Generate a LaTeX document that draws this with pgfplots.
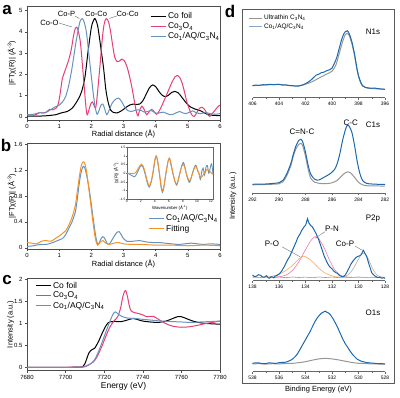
\documentclass[border=0pt]{standalone}
\usepackage{fontspec}
\setmainfont{Liberation Sans}
\usepackage{pgfplots}
\pgfplotsset{compat=1.18}
\definecolor{cpink}{RGB}{232,62,118}
\definecolor{cblue}{RGB}{104,146,190}
\definecolor{corange}{RGB}{243,146,40}
\definecolor{dblue}{RGB}{26,104,176}
\definecolor{dgray}{RGB}{150,150,150}
\definecolor{dtan}{RGB}{190,172,152}
\definecolor{dpink}{RGB}{240,120,165}
\definecolor{dorange}{RGB}{246,170,90}
\newcommand{\fs}[1]{\fontsize{#1}{#1}\selectfont}
\pgfplotsset{
  leftpanel/.style={scale only axis, width=193bp, xmin=0, xmax=6,
    tick align=outside, xtick pos=bottom, ytick pos=left,
    axis line style={draw=black!70, line width=0.5pt},
    tick style={black!70, line width=0.4pt}, major tick length=2bp,
    tick label style={font=\fs{6}},
    label style={font=\fs{7.5}},
    /pgf/number format/assume math mode=true,
    /pgf/number format/1000 sep={},
    xticklabel style={yshift=1bp}, yticklabel style={xshift=1bp},
    legend image code/.code={\draw[##1] (0bp,0bp) -- (15bp,0bp);},
    legend cell align=left,
    legend style={draw=none, fill=none, font=\fs{8.5}, row sep=-1.5bp, inner sep=0pt, anchor=north west},
    every axis plot/.append style={line width=1pt}},
  dsub/.style={scale only axis, width=132.5bp, height=80bp, x dir=reverse, ymin=0, ymax=80,
    axis x line*=bottom, axis y line=none, tick align=outside, minor x tick num=1,
    x axis line style={draw=black!60, line width=0.5pt}, tick style={black!60, line width=0.4pt},
    major tick length=2bp, minor tick length=1.2bp,
    tick label style={font=\fs{5}}, xticklabel style={yshift=1bp},
    /pgf/number format/assume math mode=true,
    /pgf/number format/1000 sep={},
    clip=false, every axis plot/.append style={line width=1pt}}
}
\begin{document}
\begin{tikzpicture}
\useasboundingbox (0bp,0bp) rectangle (400bp,398bp);
% ---------------- panel a
\begin{axis}[leftpanel, at={(27bp,278bp)}, anchor=south west, height=114bp,
  ymin=-0.15, ymax=5.22, ytick={0,1,2,3,4,5}, xtick={0,1,2,3,4,5,6},
  xlabel={Radial distance (Å)}, ylabel={|FTχ(R)| (Å\textsuperscript{-3})},
  xlabel style={at={(axis description cs:0.5,-0.123)},anchor=center},
  ylabel style={at={(axis description cs:-0.078,0.5)},anchor=center},
  legend style={at={(0.637,0.96)}}]
\addplot[black, smooth] coordinates {(0,0.03)(0.3,0.03)(0.6,0.05)(0.9,0.1)(1.0,0.15)(1.1,0.2)(1.25,0.25)(1.4,0.4)(1.5,0.6)(1.6,0.85)(1.7,1.2)(1.8,1.85)(1.9,3.1)(2.0,4.2)(2.07,4.55)(2.12,4.62)(2.2,4.25)(2.3,3.2)(2.38,2.3)(2.45,1.3)(2.52,0.7)(2.6,0.32)(2.7,0.2)(2.8,0.18)(2.9,0.25)(3.0,0.35)(3.1,0.47)(3.2,0.56)(3.3,0.6)(3.4,0.58)(3.5,0.6)(3.6,0.75)(3.7,1.05)(3.8,1.35)(3.9,1.5)(4.0,1.42)(4.1,1.2)(4.2,1.02)(4.3,0.95)(4.4,1.02)(4.5,1.15)(4.6,1.2)(4.7,1.13)(4.8,0.95)(4.9,0.75)(5.0,0.57)(5.1,0.45)(5.2,0.38)(5.3,0.33)(5.4,0.28)(5.5,0.2)(5.6,0.12)(5.7,0.08)(5.8,0.07)(6.0,0.05)};
\addlegendentry{Co foil}
\addplot[cpink, smooth] coordinates {(0,0.08)(0.1,0.1)(0.2,0.07)(0.3,0.12)(0.4,0.2)(0.5,0.18)(0.6,0.22)(0.7,0.35)(0.8,0.33)(0.9,0.4)(0.95,0.5)(1.0,0.8)(1.05,1.3)(1.1,1.8)(1.2,2.25)(1.3,2.7)(1.38,3.2)(1.45,3.85)(1.5,4.15)(1.55,4.22)(1.6,4.0)(1.66,3.5)(1.72,2.5)(1.78,1.4)(1.83,0.5)(1.87,0.1)(1.92,0.3)(1.98,0.6)(2.03,0.7)(2.08,0.55)(2.13,0.4)(2.17,0.8)(2.22,1.6)(2.28,2.6)(2.33,3.5)(2.38,4.2)(2.43,4.55)(2.48,4.62)(2.54,4.45)(2.6,4.0)(2.67,3.3)(2.73,2.8)(2.8,2.6)(2.87,2.62)(2.95,2.72)(3.02,2.65)(3.1,2.4)(3.18,1.95)(3.26,1.4)(3.33,0.8)(3.4,0.25)(3.45,0.05)(3.5,0.3)(3.57,0.5)(3.64,0.35)(3.72,0.1)(3.8,0.25)(3.88,0.35)(3.95,0.25)(4.02,0.12)(4.1,0.25)(4.2,0.55)(4.3,0.9)(4.4,1.25)(4.5,1.6)(4.6,1.88)(4.67,1.95)(4.75,1.85)(4.82,1.6)(4.9,1.15)(4.97,0.7)(5.05,0.35)(5.12,0.1)(5.2,0.02)(5.28,0.2)(5.36,0.4)(5.44,0.45)(5.52,0.35)(5.6,0.15)(5.68,0.02)(5.76,0.15)(5.85,0.32)(5.95,0.5)(6.0,0.55)};
\addlegendentry{Co\textsubscript{3}O\textsubscript{4}}
\addplot[cblue, smooth] coordinates {(0,0.1)(0.2,0.12)(0.4,0.2)(0.55,0.18)(0.7,0.3)(0.85,0.45)(1.0,0.55)(1.1,0.7)(1.2,0.95)(1.3,1.5)(1.4,2.3)(1.5,3.3)(1.58,4.0)(1.65,4.5)(1.72,4.62)(1.78,4.45)(1.85,3.95)(1.92,3.0)(2.0,1.9)(2.06,1.1)(2.12,0.45)(2.18,0.12)(2.24,0.3)(2.3,0.55)(2.36,0.6)(2.42,0.35)(2.48,0.1)(2.55,0.3)(2.65,0.65)(2.75,0.82)(2.85,0.88)(2.95,0.7)(3.05,0.42)(3.15,0.28)(3.25,0.25)(3.35,0.3)(3.45,0.33)(3.55,0.3)(3.65,0.22)(3.75,0.25)(3.85,0.3)(3.95,0.22)(4.05,0.15)(4.15,0.2)(4.25,0.22)(4.35,0.15)(4.45,0.1)(4.55,0.12)(4.65,0.2)(4.75,0.25)(4.85,0.18)(4.95,0.15)(5.05,0.22)(5.15,0.28)(5.25,0.2)(5.4,0.15)(5.55,0.2)(5.7,0.15)(5.85,0.12)(6.0,0.15)};
\addlegendentry{Co\textsubscript{1}/AQ/C\textsubscript{3}N\textsubscript{4}}
\node[font=\fs{7.6}] at (axis cs:0.70,4.43) {Co-O};
\draw[black!60, line width=0.4pt] (axis cs:0.99,4.42) -- (axis cs:1.40,4.23);
\node[font=\fs{7.6}] at (axis cs:1.23,4.83) {Co-P};
\draw[black!60, line width=0.4pt] (axis cs:1.49,4.75) -- (axis cs:1.63,4.63);
\node[font=\fs{7.6}] at (axis cs:2.15,4.83) {Co-Co};
\node[font=\fs{7.6}] at (axis cs:3.13,4.83) {Co-Co};
\draw[black!60, line width=0.4pt] (axis cs:2.79,4.75) -- (axis cs:2.56,4.63);
\end{axis}
% ---------------- panel b
\begin{axis}[leftpanel, at={(27bp,149bp)}, anchor=south west, height=105.5bp,
  ymin=-0.02, ymax=1.612, ytick={0,0.4,0.8,1.2,1.6}, xtick={0,1,2,3,4,5,6},
  xlabel={Radial distance (Å)}, ylabel={|FTχ(R)| (Å\textsuperscript{-3})},
  xlabel style={at={(axis description cs:0.5,-0.142)},anchor=center},
  ylabel style={at={(axis description cs:-0.078,0.5)},anchor=center},
  legend style={at={(0.627,0.345)}}]
\addplot[cblue, smooth] coordinates {(0,0.02)(0.2,0.03)(0.4,0.05)(0.6,0.05)(0.8,0.08)(1.0,0.12)(1.1,0.14)(1.2,0.2)(1.3,0.3)(1.4,0.4)(1.5,0.55)(1.55,0.7)(1.6,0.9)(1.65,1.08)(1.7,1.2)(1.75,1.26)(1.8,1.23)(1.85,1.13)(1.9,1.0)(1.95,0.85)(2.0,0.67)(2.05,0.48)(2.1,0.3)(2.15,0.14)(2.2,0.05)(2.25,0.08)(2.3,0.14)(2.36,0.17)(2.42,0.14)(2.5,0.06)(2.55,0.05)(2.62,0.1)(2.7,0.17)(2.8,0.24)(2.86,0.25)(2.93,0.2)(3.0,0.14)(3.1,0.1)(3.3,0.1)(3.5,0.11)(3.7,0.09)(3.9,0.08)(4.1,0.08)(4.3,0.07)(4.5,0.06)(4.7,0.05)(4.9,0.06)(5.1,0.07)(5.3,0.06)(5.5,0.05)(5.7,0.06)(6.0,0.05)};
\addlegendentry{Co\textsubscript{1}/AQ/C\textsubscript{3}N\textsubscript{4}}
\addplot[corange, smooth] coordinates {(0,0.08)(0.15,0.07)(0.3,0.06)(0.45,0.1)(0.6,0.11)(0.75,0.1)(0.9,0.15)(1.0,0.18)(1.1,0.22)(1.2,0.26)(1.3,0.35)(1.4,0.47)(1.5,0.65)(1.55,0.82)(1.6,1.0)(1.65,1.17)(1.7,1.29)(1.75,1.33)(1.8,1.3)(1.85,1.18)(1.9,1.0)(1.95,0.8)(2.0,0.6)(2.05,0.4)(2.1,0.22)(2.15,0.09)(2.2,0.04)(2.25,0.07)(2.3,0.1)(2.36,0.11)(2.45,0.07)(2.55,0.05)(2.7,0.07)(2.85,0.08)(3.0,0.06)(3.3,0.05)(3.6,0.05)(4.0,0.04)(4.5,0.04)(5.0,0.03)(5.5,0.04)(6.0,0.03)};
\addlegendentry{Fitting}
\end{axis}
% inset
\begin{axis}[scale only axis, at={(126.7bp,198.7bp)}, anchor=south west, width=86.3bp, height=52bp,
  xmin=0, xmax=12.3, ymin=-1.5, ymax=1.5, xtick={0,2,4,6,8,10,12}, ytick={-1.5,-1,-0.5,0,0.5,1,1.5},
  tick align=outside, xtick pos=bottom, ytick pos=left, major tick length=1bp,
  axis line style={draw=black!60, line width=0.4pt}, tick style={black!60, line width=0.3pt},
  axis background/.style={fill=white},
  tick label style={font=\fs{3.3}, inner sep=0.6bp}, xticklabel style={yshift=0.5bp}, yticklabel style={xshift=0.5bp},
  /pgf/number format/assume math mode=true,
  xlabel={Wavenumber (Å\textsuperscript{-1})}, ylabel={|χ(R)| (Å\textsuperscript{-3})},
  label style={font=\fs{4.3}, inner sep=0.5bp},
  xlabel style={at={(axis description cs:0.5,-0.165)},anchor=center},
  ylabel style={at={(axis description cs:-0.125,0.5)},anchor=center},
  every axis plot/.append style={line width=0.9pt}]
\addplot[cblue, smooth] coordinates {(0,0.02)(0.4,-0.05)(0.8,-0.15)(1.1,-0.2)(1.4,-0.05)(1.7,0.2)(1.9,0.38)(2.1,0.45)(2.3,0.38)(2.6,0.0)(2.9,-0.5)(3.2,-0.8)(3.5,-0.5)(3.8,0.15)(4.0,0.7)(4.2,1.0)(4.4,0.7)(4.7,-0.15)(4.9,-0.8)(5.1,-1.1)(5.3,-0.8)(5.6,0.0)(5.9,0.7)(6.1,0.85)(6.3,0.5)(6.6,-0.05)(6.8,-0.35)(7.1,-0.68)(7.3,-0.5)(7.6,0.05)(7.9,0.5)(8.1,0.62)(8.3,0.35)(8.6,-0.2)(8.9,-0.52)(9.1,-0.4)(9.4,0.05)(9.7,0.4)(9.9,0.45)(10.1,0.15)(10.3,0.0)(10.5,-0.35)(10.7,0.1)(10.9,0.3)(11.1,-0.1)(11.3,0.35)(11.5,0.45)(11.7,0.0)(11.9,0.3)(12.1,0.55)(12.3,-0.05)};
\addplot[corange, smooth] coordinates {(0,0)(0.5,0.0)(1.0,-0.02)(1.3,0.05)(1.6,0.25)(1.9,0.45)(2.1,0.53)(2.3,0.45)(2.6,0.1)(2.9,-0.4)(3.2,-0.72)(3.5,-0.45)(3.8,0.2)(4.0,0.75)(4.2,1.0)(4.4,0.75)(4.7,-0.1)(4.9,-0.7)(5.1,-1.0)(5.3,-0.75)(5.6,0.05)(5.9,0.7)(6.1,0.88)(6.3,0.6)(6.6,0.0)(6.9,-0.5)(7.1,-0.62)(7.3,-0.45)(7.6,0.05)(7.9,0.45)(8.1,0.5)(8.3,0.3)(8.6,-0.15)(8.9,-0.42)(9.1,-0.35)(9.4,0.0)(9.7,0.35)(9.9,0.38)(10.1,0.2)(10.4,-0.15)(10.6,-0.25)(10.9,-0.1)(11.2,0.1)(11.5,0.22)(11.8,0.15)(12.1,0.0)(12.3,-0.05)};
\end{axis}
% ---------------- panel c
\begin{axis}[leftpanel, at={(27bp,27.5bp)}, anchor=south west, height=92.2bp,
  xmin=7680, xmax=7780, ymin=-0.073, ymax=2.023, ytick={0,0.5,1,1.5,2}, xtick={7680,7700,7720,7740,7760,7780},
  xlabel={Energy (eV)}, ylabel={Intensity (a.u.)},
  xlabel style={at={(axis description cs:0.5,-0.174)},anchor=center, font=\fs{8.5}},
  ylabel style={at={(axis description cs:-0.085,0.5)},anchor=center},
  legend style={at={(0.041,0.985)}}]
\addplot[black, smooth] coordinates {(7680,0)(7700,0)(7708,0.005)(7709,0.02)(7710,0.08)(7711,0.2)(7712,0.32)(7713,0.38)(7714,0.41)(7715,0.43)(7716,0.5)(7717,0.58)(7718,0.68)(7719,0.78)(7720,0.87)(7721,0.95)(7722,1.01)(7724,1.04)(7727,1.04)(7729,1.04)(7731,1.06)(7733,1.09)(7735,1.11)(7737,1.09)(7740,1.05)(7744,1.03)(7748,1.02)(7752,1.05)(7755,1.1)(7758,1.15)(7760,1.15)(7763,1.1)(7766,1.05)(7770,1.01)(7775,0.99)(7780,0.98)};
\addlegendentry{Co foil}
\addplot[cpink, smooth] coordinates {(7680,0)(7700,0)(7709,0.01)(7711,0.04)(7713,0.08)(7715,0.15)(7717,0.3)(7719,0.5)(7721,0.72)(7723,0.92)(7725,1.05)(7727,1.15)(7728.5,1.35)(7729.5,1.58)(7730.5,1.72)(7731.2,1.74)(7732,1.62)(7733,1.4)(7734,1.28)(7736,1.24)(7738,1.22)(7740,1.19)(7742,1.15)(7744,1.16)(7745.5,1.16)(7747,1.12)(7750,1.04)(7753,0.97)(7756,0.93)(7760,0.91)(7764,0.92)(7768,0.95)(7772,0.99)(7776,1.02)(7780,1.05)};
\addlegendentry{Co\textsubscript{3}O\textsubscript{4}}
\addplot[cblue, smooth] coordinates {(7680,0)(7700,0)(7709,0.005)(7711,0.03)(7713,0.08)(7715,0.17)(7717,0.35)(7719,0.58)(7721,0.82)(7723,1.05)(7724.5,1.2)(7725.7,1.26)(7727,1.22)(7729,1.16)(7732,1.12)(7736,1.11)(7740,1.09)(7745,1.07)(7750,1.05)(7755,1.04)(7760,1.03)(7765,1.02)(7770,1.03)(7775,1.04)(7780,1.05)};
\addlegendentry{Co\textsubscript{1}/AQ/C\textsubscript{3}N\textsubscript{4}}
\end{axis}
% ---------------- panel d outer box
\begin{axis}[scale only axis, at={(242.7bp,14.7bp)}, anchor=south west, width=151.6bp, height=374.3bp,
  xmin=0, xmax=1, ymin=0, ymax=1, xtick=\empty, ytick=\empty,
  axis line style={draw=black!65, line width=0.8pt},
  xlabel={Binding Energy (eV)}, ylabel={Intensity (a.u.)}, label style={font=\fs{7.5}},
  xlabel style={at={(axis description cs:0.5,-0.018)},anchor=center},
  ylabel style={at={(axis description cs:-0.064,0.5)},anchor=center},
  legend image code/.code={\draw[#1] (0bp,0bp) -- (13bp,0bp);},
  legend cell align=left,
  legend style={draw=none, fill=none, font=\fs{6.5}, row sep=-1.5bp, inner sep=0pt, anchor=north west, at={(0.035,0.99)}}]
\addlegendimage{dgray, line width=1pt}
\addlegendentry{Ultrathin C\textsubscript{3}N\textsubscript{4}}
\addlegendimage{cblue!80, line width=1pt}
\addlegendentry{Co\textsubscript{1}/AQ/C\textsubscript{3}N\textsubscript{4}}
\end{axis}
% N1s
\begin{axis}[dsub, at={(252.5bp,300.3bp)}, anchor=south west, xmin=396, xmax=406, xtick={396,398,400,402,404,406}]
\addplot[dgray, smooth] coordinates {(406,12)(405,12.8)(404,13.2)(403,12)(402.5,12)(402,13.5)(401.5,16)(401,19.5)(400.5,23)(400,26.5)(399.7,33)(399.5,42)(399.2,56)(399,63)(398.85,64.5)(398.7,62)(398.5,54)(398.3,42)(398.1,27)(397.9,17)(397.7,12)(397.4,9.8)(397,9.2)(396,8.4)};
\addplot[dblue] coordinates {(406,12)(405.8,12.6)(405.5,12.3)(405.2,13)(405,12.8)(404.7,13.4)(404.4,13)(404,13.4)(403.7,12.6)(403.5,12.8)(403.2,12.1)(403,12)(402.7,11.5)(402.5,11.7)(402.2,12.8)(402,14)(401.8,15.6)(401.6,17.5)(401.4,20)(401.2,22.5)(401,23.5)(400.8,25)(400.6,25.6)(400.4,27)(400.2,27.8)(400,29.5)(399.9,32)(399.8,35)(399.7,38)(399.6,42)(399.5,47)(399.4,52)(399.3,57)(399.2,61)(399.1,64)(399,66)(398.9,66.5)(398.85,67)(398.75,65.5)(398.7,64)(398.6,60.5)(398.5,56)(398.4,50)(398.3,44)(398.2,36)(398.1,28)(398,22)(397.9,18)(397.8,14.5)(397.7,12)(397.5,10.5)(397.3,9.8)(397,9.4)(396.8,9.7)(396.5,9)(396.3,8.7)(396,8.4)};
\end{axis}
% C1s
\begin{axis}[dsub, at={(252.5bp,204.7bp)}, anchor=south west, xmin=282, xmax=292, xtick={282,284,286,288,290,292}]
\addplot[dgray, smooth] coordinates {(292,8.5)(291,8.8)(290,9.5)(289.7,11.5)(289.4,18)(289.1,28)(288.9,38)(288.7,45)(288.5,49)(288.35,50)(288.2,47)(288.0,37)(287.8,24)(287.6,15)(287.3,11)(287.0,10)(286.5,9.6)(286,10.5)(285.6,13)(285.3,17)(285.0,20.5)(284.8,21.5)(284.6,20.5)(284.3,16)(284.0,11)(283.7,8.5)(283.3,7.5)(282.5,7.3)(282,7.3)};
\addplot[dblue, smooth] coordinates {(292,9)(291.5,9.2)(291,9.3)(290.5,9.8)(290,10.6)(289.7,13)(289.4,20)(289.1,30)(288.9,40)(288.7,48)(288.5,53)(288.35,54)(288.2,51)(288.0,41)(287.8,28)(287.6,19)(287.3,14)(287.0,13.3)(286.7,15.3)(286.4,17.5)(286.1,20)(285.8,24)(285.6,30)(285.4,40)(285.2,53)(285.0,63)(284.85,68)(284.7,67)(284.5,61)(284.3,48)(284.1,32)(283.9,20)(283.7,13)(283.4,10)(283,9.3)(282.5,9)(282,9)};
\end{axis}
% P2p
\begin{axis}[dsub, at={(252.5bp,117.3bp)}, anchor=south west, xmin=128, xmax=138, xtick={128,130,132,134,136,138}]
\addplot[dgray, line width=0.6pt] coordinates {(138,3.8)(137.5,3.0)(137,3.8)(136.5,3.0)(136,3.6)(135.5,3.1)(135,3.7)(134.5,3.2)(134,3.6)(133.5,3.0)(133,3.7)(132.5,3.2)(132,3.6)(131.5,3.1)(131,3.6)(130.5,3.2)(130,3.7)(129.5,3.1)(129,3.5)(128.5,3.1)(128,3.4)};
\addplot[dorange, smooth, line width=0.6pt] coordinates {(138,3.4)(137,3.6)(136.5,4.5)(136,6.5)(135.5,10)(135,15)(134.6,20.5)(134.2,24.5)(133.8,22.5)(133.4,18)(133,12.5)(132.5,7.5)(132,4.8)(131.5,3.7)(131,3.4)(128,3.4)};
\addplot[dpink, smooth, line width=0.6pt] coordinates {(136.5,3.5)(136.0,4.0)(135.5,5.5)(135.0,10)(134.5,19)(134.0,31)(133.6,40)(133.3,44)(133.0,42)(132.6,33)(132.2,21)(131.8,11)(131.4,5.8)(131.0,3.9)(130.5,3.4)};
\addplot[dtan, smooth, line width=0.6pt] coordinates {(131.5,3.4)(131,4.2)(130.7,7)(130.4,12)(130.1,19)(129.9,24)(129.7,27.5)(129.5,27)(129.3,23)(129.1,17)(128.9,11)(128.6,5.5)(128.3,3.8)(128,3.4)};
\addplot[dblue] coordinates {(138,5.7)(137.85,4.2)(137.7,4.5)(137.55,6)(137.4,5.5)(137.25,3.8)(137.1,3.5)(136.95,5)(136.9,4.2)(136.8,2.8)(136.7,2.5)(136.6,4)(136.5,3.8)(136.4,3)(136.3,4.5)(136.2,5)(136.1,5.7)(136,6.5)(135.9,8)(135.8,9.5)(135.7,12)(135.6,14)(135.5,17)(135.4,19.5)(135.3,22)(135.2,24)(135.1,27)(135,30)(134.9,33)(134.8,36)(134.7,39)(134.6,42.5)(134.5,45)(134.4,47)(134.3,50)(134.2,52)(134.1,54)(134.0,55.5)(133.95,57)(133.9,60)(133.85,62)(133.8,60)(133.75,58)(133.65,56)(133.6,55)(133.5,54)(133.4,52)(133.3,49.5)(133.2,47)(133.1,44)(133.0,41)(132.9,37)(132.8,33)(132.7,29)(132.6,25)(132.5,22)(132.4,19)(132.3,16.5)(132.2,14.5)(132.1,13)(132.0,12)(131.9,10)(131.8,9)(131.7,8)(131.6,7.4)(131.5,6)(131.4,5)(131.3,4.5)(131.2,4)(131.1,4.5)(131.0,5.7)(130.9,8)(130.8,10.5)(130.7,13)(130.6,16)(130.5,18)(130.4,20)(130.3,21.5)(130.2,23)(130.1,24)(130.0,24.5)(129.9,25)(129.8,26)(129.7,28.5)(129.65,30.5)(129.6,29.5)(129.5,27)(129.4,24.5)(129.35,23)(129.3,20.5)(129.2,16)(129.1,12)(129.0,8)(128.9,6.5)(128.8,5)(128.7,4.2)(128.6,3.5)(128.5,3.1)(128.4,3.6)(128.3,2.8)(128.2,2.6)(128.1,3)(128.0,2.4)};
\end{axis}
% O1s
\begin{axis}[dsub, at={(252.5bp,26.3bp)}, anchor=south west, xmin=528, xmax=538, xtick={528,530,532,534,536,538}]
\addplot[dgray] coordinates {(538,7.8)(537.5,8.1)(537,7.6)(536.5,8)(536,7.8)(535.5,8.2)(535,8.3)(534.5,9)(534,10)(533.5,11.5)(533,12.8)(532.5,13.4)(532,12.8)(531.5,11.8)(531,10.5)(530.5,9.2)(530,8.4)(529.5,8.1)(529,7.8)(528.5,7.7)(528,7.5)};
\addplot[dblue] coordinates {(538,8.4)(537.75,8.9)(537.5,8.8)(537.25,8)(537,8.2)(536.75,8.9)(536.5,8.6)(536.25,8.3)(536,9)(535.75,9.3)(535.5,9.5)(535.35,10.2)(535.2,11)(535.05,12)(534.9,13.5)(534.75,15.5)(534.6,18)(534.45,21.5)(534.3,25)(534.15,28.5)(534.0,32)(533.85,35.5)(533.7,39)(533.55,43)(533.4,47)(533.25,51)(533.1,54)(532.95,56.5)(532.8,58.5)(532.7,59.2)(532.6,60)(532.5,60.5)(532.4,59.5)(532.3,59)(532.2,58)(532.1,56.5)(532.0,54.5)(531.9,52.5)(531.8,50)(531.7,47.5)(531.6,45)(531.5,42)(531.4,39)(531.3,36)(531.2,33)(531.1,30.5)(531.0,28)(530.85,25)(530.7,22)(530.55,19)(530.4,16.5)(530.25,14.5)(530.1,12.5)(529.95,11.5)(529.8,10.5)(529.6,9.8)(529.4,9.2)(529.2,8.9)(529,8.6)(528.75,8.4)(528.5,8)(528.25,8.1)(528,7.7)};
\end{axis}
% panel d labels
\node[font=\fs{8}] at (373bp,366bp) {N1s};
\node[font=\fs{8}] at (373bp,273bp) {C1s};
\node[font=\fs{8}] at (373bp,179bp) {P2p};
\node[font=\fs{8}] at (373bp,85bp) {O1s};
\node[font=\fs{8}] at (302bp,266.3bp) {C=N-C};
\node[font=\fs{8}] at (350.7bp,275.3bp) {C-C};
\node[font=\fs{8}] at (332bp,169.7bp) {P-N};
\node[font=\fs{8}] at (272bp,154.7bp) {P-O};
\node[font=\fs{8}] at (345bp,154bp) {Co-P};
\draw[black!55, line width=0.4pt] (325bp,166.3bp) -- (315bp,159.7bp);
\draw[black!55, line width=0.4pt] (281.7bp,151.3bp) -- (300bp,141.3bp);
\draw[black!55, line width=0.4pt] (355bp,152bp) -- (361.7bp,148bp);
% panel letters
\node[font=\fs{17}\bfseries] at (7bp,388bp) {a};
\node[font=\fs{17}\bfseries] at (6bp,253bp) {b};
\node[font=\fs{17}\bfseries] at (7bp,118bp) {c};
\node[font=\fs{17}\bfseries] at (230bp,387bp) {d};
\end{tikzpicture}
\end{document}
